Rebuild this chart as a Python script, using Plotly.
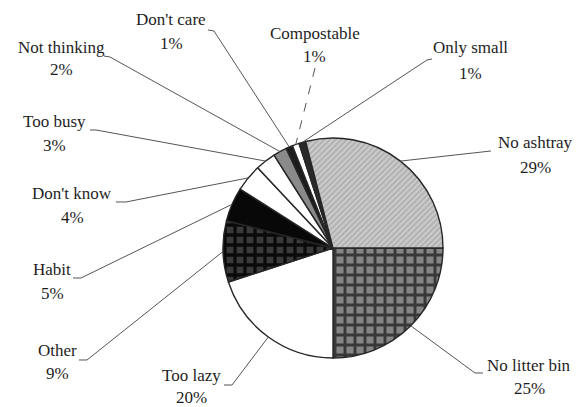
import math
import plotly.graph_objects as go

# Reasons given for littering cigarette butts (percent of responses)
labels = ["No litter bin", "Too lazy", "Other", "Habit", "Don't know", "Too busy",
          "Not thinking", "Don't care", "Compostable", "Only small", "No ashtray"]
values = [25, 20, 9, 5, 4, 3, 2, 1, 1, 1, 29]

# Slice fills (greyscale print style)
bg_colors = ["#858585", "#ffffff", "#3a3a3a", "#080808", "#ffffff", "#ffffff",
             "#8a8a8a", "#1c1c1c", "#ffffff", "#2a2a2a", "#cacaca"]
fg_colors = ["#383838", "#ffffff", "#0a0a0a", "#080808", "#ffffff", "#ffffff",
             "#8a8a8a", "#1c1c1c", "#ffffff", "#2a2a2a", "#a8a8a8"]
shapes_pat = ["+", "", "+", "", "", "", "", "", "", "", "/"]

# Label placement (pixel centres of name line / percent line) and leader-line start
label_pos = {
    "No litter bin": (529, 365, 388),
    "Too lazy": (191, 375, 397),
    "Other": (57, 350, 373),
    "Habit": (52, 269, 293),
    "Don't know": (72, 193, 217),
    "Too busy": (54, 122, 145),
    "Not thinking": (61, 47, 70),
    "Don't care": (171, 20, 43),
    "Compostable": (315, 33, 56),
    "Only small": (470, 48, 73),
    "No ashtray": (535, 143, 167),
}
leader_start = {
    "No litter bin": [(483, 373), (475, 373)],
    "Too lazy": [(224, 385), (232, 385)],
    "Other": [(79, 360), (87, 360)],
    "Habit": [(73, 278), (81, 278)],
    "Don't know": [(116, 202), (126, 202)],
    "Too busy": [(90, 130), (96, 130)],
    "Not thinking": [(104, 56), (110, 57)],
    "Don't care": [(208, 30), (214, 31)],
    "Compostable": [(315, 68)],
    "Only small": [(432, 59), (427, 60)],
    "No ashtray": [(491, 151), (482, 152)],
}

W, H = 577, 407
pie_x = (223 / W, 443 / W)
pie_y = (1 - 358 / H, 1 - 138 / H)
rotation = 90


def px(x, y):
    return x / W, 1 - y / H


fig = go.Figure()
fig.add_trace(go.Pie(
    labels=labels,
    values=values,
    sort=False,
    direction="clockwise",
    rotation=rotation,
    textinfo="none",
    hoverinfo="none",
    showlegend=False,
    domain=dict(x=list(pie_x), y=list(pie_y)),
    marker=dict(
        colors=bg_colors,
        line=dict(color="#262626", width=1.4),
        pattern=dict(shape=shapes_pat, fgcolor=fg_colors, bgcolor=bg_colors,
                     size=[10, 8, 10, 8, 8, 8, 8, 8, 8, 8, 4],
                     solidity=[0.5, 0.3, 0.55, 0.3, 0.3, 0.3, 0.3, 0.3, 0.3, 0.3, 0.35]),
    ),
))

# Pie geometry in pixels, used to anchor the leader lines at slice mid-angles
cx = (pie_x[0] + pie_x[1]) / 2 * W
cy = (1 - (pie_y[0] + pie_y[1]) / 2) * H
R = min((pie_x[1] - pie_x[0]) * W, (pie_y[1] - pie_y[0]) * H) / 2

total = sum(values)
angle = rotation
shapes = []
annotations = []
font = dict(family="'Liberation Serif', 'DejaVu Serif', serif", size=17, color="#1e1e1e")
for lab, val in zip(labels, values):
    span = 360 * val / total
    mid = math.radians(angle + span / 2)
    angle += span
    ex = cx + R * math.sin(mid)
    ey = cy - R * math.cos(mid)
    pts = leader_start[lab] + [(ex, ey)]
    path = "M " + " L ".join("{:.5f},{:.5f}".format(*px(x, y)) for x, y in pts)
    shapes.append(dict(type="path", xref="paper", yref="paper", path=path,
                       line=dict(color="#555555", width=1,
                                 dash="dash" if lab == "Compostable" else "solid")))
    lx, ly1, ly2 = label_pos[lab]
    for text, yy in ((lab, ly1), (f"{val}%", ly2)):
        x_p, y_p = px(lx, yy)
        annotations.append(dict(x=x_p, y=y_p, xref="paper", yref="paper", text=text,
                                showarrow=False, xanchor="center", yanchor="middle",
                                font=font))

fig.update_layout(
    width=W, height=H,
    margin=dict(l=0, r=0, t=0, b=0),
    paper_bgcolor="white",
    plot_bgcolor="white",
    font=font,
    shapes=shapes,
    annotations=annotations,
)

fig.write_html("out.html")
